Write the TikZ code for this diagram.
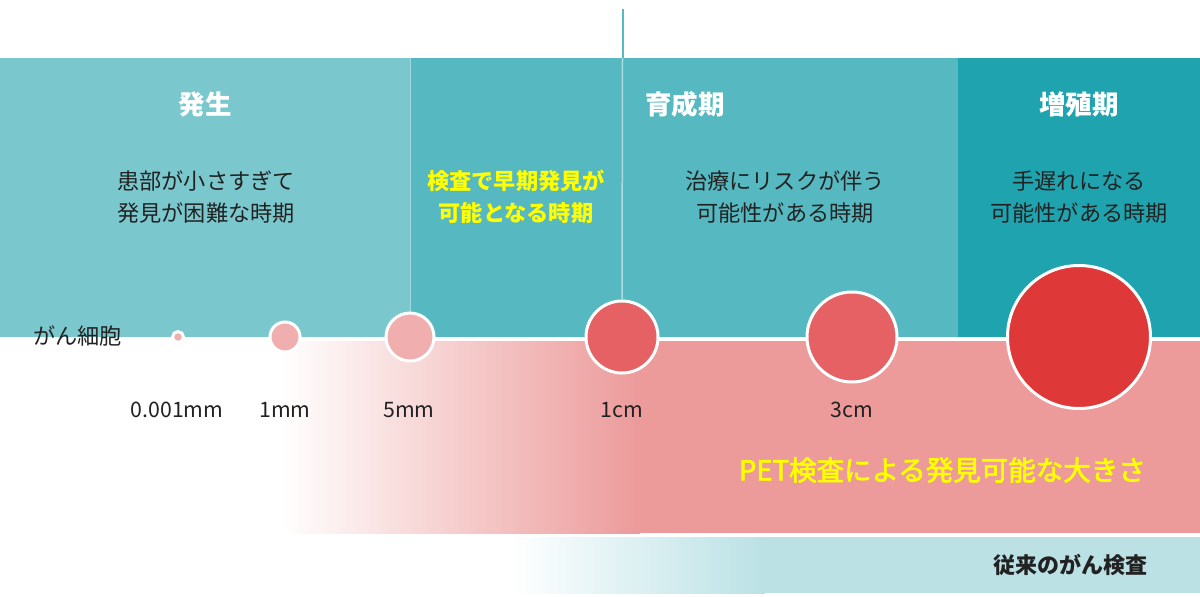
\documentclass[tikz,border=0pt]{standalone}
\usepackage{fontspec}
\setmainfont{Noto Sans CJK JP}
\newfontfamily\petfont{Noto Sans CJK JP}[BoldFont={Noto Sans CJK JP}, BoldFeatures={FakeBold=2.5}]
\definecolor{tealA}{HTML}{7AC8CE}
\definecolor{tealB}{HTML}{56B9C1}
\definecolor{tealC}{HTML}{1FA3AE}
\definecolor{pinkBand}{HTML}{EC9A9A}
\definecolor{bandTeal}{HTML}{BBE1E5}
\definecolor{cellSmall}{HTML}{F0AEAE}
\definecolor{cellMid}{HTML}{E56163}
\definecolor{cellBig}{HTML}{DF3838}
\definecolor{hiYellow}{HTML}{FFFF00}
\definecolor{textDark}{HTML}{222222}
\tikzset{
  title/.style={text=white, font=\fontsize{26.5}{30}\selectfont\bfseries, inner sep=0pt},
  desc/.style={text=textDark, font=\fontsize{22.2}{32}\selectfont, align=center, inner sep=0pt},
  hilite/.style={text=hiYellow, font=\fontsize{22.2}{32}\selectfont\bfseries, align=center, inner sep=0pt},
  size/.style={text=textDark, font=\fontsize{21.3}{24}\selectfont, inner sep=0pt},
  cell/.style={circle, draw=white, line width=3pt, inner sep=0pt},
}
\begin{document}
\begin{tikzpicture}[x=1pt,y=-1pt]
\fill[white] (0,0) rectangle (1200,597);
\useasboundingbox (0,0) rectangle (1200,597);
% top panels
\fill[tealA] (0,58) rectangle (410,337);
\fill[tealB] (410,58) rectangle (958,337);
\fill[tealC] (958,58) rectangle (1200,337);
\draw[white, opacity=0.45, line width=1pt] (410,58) -- (410,337);
% pink band
\shade[left color=white, right color=pinkBand] (280,341) rectangle (640,533);
\fill[pinkBand] (639.5,341) rectangle (1200,533);
% teal band
\shade[left color=white, right color=bandTeal] (510,537) rectangle (765,593);
\fill[bandTeal] (764.5,537) rectangle (1200,593);
% titles
\node[title] (t1) at (205,104) {発生};
\node[title] (t2) at (685,104) {育成期};
\node[title] (t3) at (1079,104) {増殖期};
% descriptions
\node[desc] (d1) at (206,197) {患部が小さすぎて\\発見が困難な時期};
\node[hilite] (d2) at (516,197) {検査で早期発見が\\可能となる時期};
\node[desc] (d3) at (785,197) {治療にリスクが伴う\\可能性がある時期};
\node[desc] (d4) at (1079,197) {手遅れになる\\可能性がある時期};
% cells
\node[desc, anchor=west] (lbl) at (33,336) {がん細胞};
\node[cell, fill=cellSmall, minimum size=11pt] (c0) at (178,337) {};
\node[cell, fill=cellSmall, minimum size=30pt] (c1) at (285,337) {};
\node[cell, fill=cellSmall, minimum size=48pt] (c2) at (410,337) {};
\node[cell, fill=cellMid, minimum size=72pt] (c3) at (622,337) {};
\node[cell, fill=cellMid, minimum size=90pt] (c4) at (852,337) {};
\node[cell, fill=cellBig, minimum size=143pt] (c5) at (1079,337) {};
% vertical marker line
\coordinate (vtop) at (622.5,9);
\coordinate (vmid) at (622.5,58);
\draw[tealB, line width=2pt] (vtop) -- (vmid);
\draw[white, opacity=0.5, line width=1.5pt] (vmid) -- (c3.north);
% size labels
\node[size] (s0) at (177,410) {0.001mm};
\node[size] (s1) at (285,410) {1mm};
\node[size] (s2) at (409,410) {5mm};
\node[size] (s3) at (622,410) {1cm};
\node[size] (s4) at (852,410) {3cm};
% band labels
\node[text=hiYellow, font=\petfont\bfseries\fontsize{27.5}{32}\selectfont, inner sep=0pt, anchor=east] (pet) at (1146,470) {PET検査による発見可能な大きさ};
\node[text=textDark, font=\fontsize{22}{26}\selectfont\bfseries, inner sep=0pt, anchor=east] (conv) at (1148,565) {従来のがん検査};
\end{tikzpicture}
\end{document}
